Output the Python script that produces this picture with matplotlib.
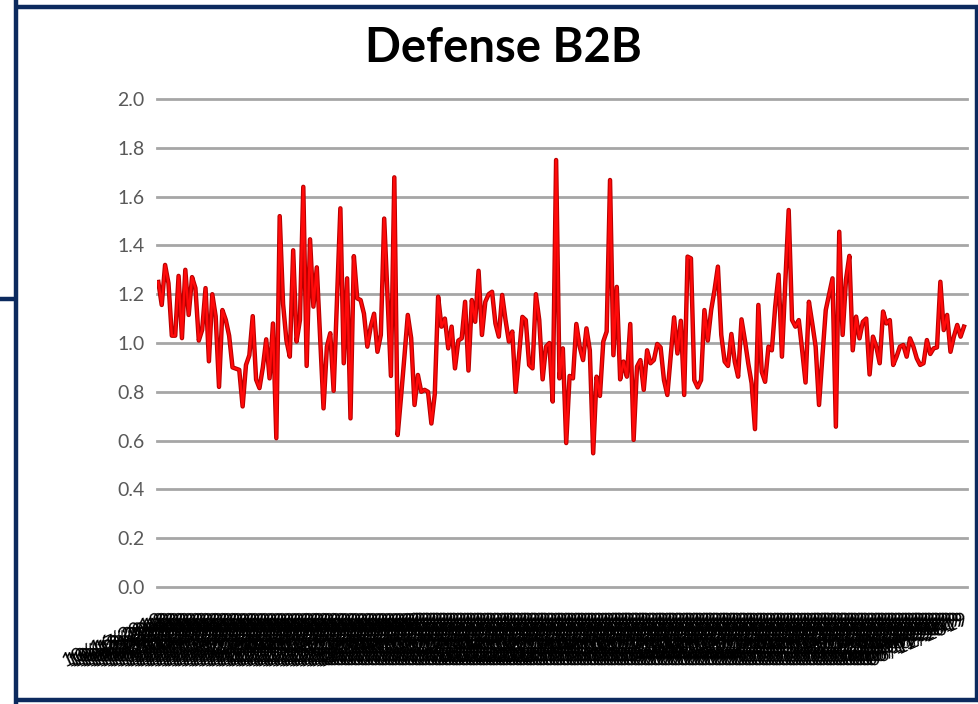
import matplotlib
matplotlib.use('Agg')
import matplotlib.pyplot as plt
from matplotlib.lines import Line2D
import numpy as np
import pandas as pd

title = "Defense B2B"

values = [
    1.25, 1.156, 1.32, 1.245, 1.03, 1.03, 1.275, 1.02, 1.30, 1.115,
    1.27, 1.225, 1.01, 1.054, 1.225, 0.925, 1.20, 1.11, 0.82, 1.135,
    1.095, 1.03, 0.90, 0.895, 0.89, 0.74, 0.91, 0.95, 1.11, 0.85,
    0.815, 0.90, 1.015, 0.855, 1.08, 0.61, 1.52,
    1.16, 1.01, 0.944, 1.38, 1.006, 1.094, 1.64, 0.906, 1.425, 1.149,
    1.31, 1.02, 0.732, 0.985, 1.04, 0.804, 1.18, 1.552, 0.917, 1.265,
    0.691, 1.356, 1.183, 1.176, 1.12, 0.985, 1.067, 1.12, 0.964, 1.033,
    1.51, 1.19, 0.865, 1.679, 0.623, 0.78, 0.944, 1.115, 1.02, 0.746,
    0.869, 0.80,
    0.808, 0.80, 0.67, 0.79, 1.19, 1.067, 1.10, 0.978, 1.067, 0.896,
    1.01, 1.019, 1.169, 0.887, 1.176, 1.087, 1.296, 1.033, 1.169, 1.20,
    1.21, 1.08, 1.026, 1.197, 1.094, 1.006, 1.047, 0.80, 0.95, 1.107,
    1.094, 0.91, 0.896, 1.20, 1.094, 0.851, 0.985, 1.00, 0.76, 1.75,
    0.855, 0.978, 0.59, 0.865, 0.855, 1.078, 0.985, 0.93, 1.06, 0.97,
    0.548, 0.862, 0.783, 1.006, 1.047, 1.668, 0.95, 1.23, 0.851, 0.924,
    0.862, 1.078, 0.603, 0.903, 0.93, 0.808, 0.97, 0.917, 0.93, 0.996,
    0.982, 0.848, 0.787, 0.944, 1.105, 0.957, 1.091, 0.787, 1.354, 1.347,
    0.848, 0.818, 0.848, 1.135, 1.01, 1.135, 1.217, 1.313, 1.033, 0.924,
    0.906, 1.037, 0.924, 0.862, 1.097, 1.012, 0.917, 0.835, 0.647, 1.156,
    0.882, 0.841, 0.985, 0.97, 1.149, 1.28, 0.944, 1.25, 1.545, 1.094,
    1.067, 1.094, 0.97, 0.838, 1.169, 1.08, 0.985, 0.746, 0.944, 1.135,
    1.20,
    1.265, 0.657, 1.456, 1.033, 1.26, 1.357, 0.97, 1.108, 1.019, 1.087,
    1.10, 0.871, 1.026, 0.985, 0.917, 1.129, 1.08, 1.094, 0.91, 0.944,
    0.985, 0.992, 0.944, 1.019, 0.985, 0.937, 0.91, 0.917, 1.012, 0.955,
    0.978, 0.982, 1.251, 1.053, 1.115, 0.964, 1.026, 1.074, 1.026, 1.067,
]

dates = pd.date_range('2018-10-16', periods=len(values), freq='D')
x_labels = [d.strftime('%m/%d/%Y') for d in dates]
y_ticks = [0.0, 0.2, 0.4, 0.6, 0.8, 1.0, 1.2, 1.4, 1.6, 1.8, 2.0]

W, H = 979, 704
fig = plt.figure(figsize=(W / 100, H / 100), dpi=100)
fig.patch.set_facecolor('white')

ax = fig.add_axes([157 / W, (H - 587) / H, (967 - 157) / W, (587 - 99) / H])
x = np.arange(len(values))
ax.plot(x, values, color='#b80000', lw=3.2, solid_joinstyle='round', zorder=3)
ax.plot(x, values, color='#ff0a0a', lw=1.7, solid_joinstyle='round', zorder=4)
ax.set_ylim(0, 2)
ax.set_xlim(-0.4, len(values) - 1 + 0.9)
ax.set_yticks(y_ticks)
ax.set_yticklabels([f'{t:.1f}' for t in y_ticks], fontsize=14, color='#595959', family='Lato')
ax.yaxis.grid(True, color='#a6a6a6', lw=2)
for gl in ax.get_ygridlines():
    gl.set_clip_on(False)
ax.set_axisbelow(True)
for s in ax.spines.values():
    s.set_visible(False)
ax.tick_params(axis='y', length=0, pad=9)
ax.set_xticks(x)
ax.set_xticklabels(x_labels, rotation=24, ha='right', rotation_mode='anchor',
                   fontsize=14, family='Lato', color='black')
ax.tick_params(axis='x', length=0, pad=17)

fig.text(503 / W, 1 - 62 / H, title, ha='center', va='baseline',
         fontsize=34, fontweight='bold', family='Lato', color='black')

navy = '#0c2a5e'

def hline(y, x0, x1, lw):
    fig.add_artist(Line2D([x0 / W, x1 / W], [1 - y / H, 1 - y / H],
                          transform=fig.transFigure, color=navy, lw=lw,
                          solid_capstyle='butt'))

def vline(xp, y0, y1, lw):
    fig.add_artist(Line2D([xp / W, xp / W], [1 - y0 / H, 1 - y1 / H],
                          transform=fig.transFigure, color=navy, lw=lw,
                          solid_capstyle='butt'))

hline(7, 14, W, 3.2)
hline(700, 14, W, 3.2)
vline(16, 0, H, 3.2)
vline(977, 5, 702, 3.2)
hline(299, 0, 16, 3.2)

fig.savefig('out.png', dpi=100)
